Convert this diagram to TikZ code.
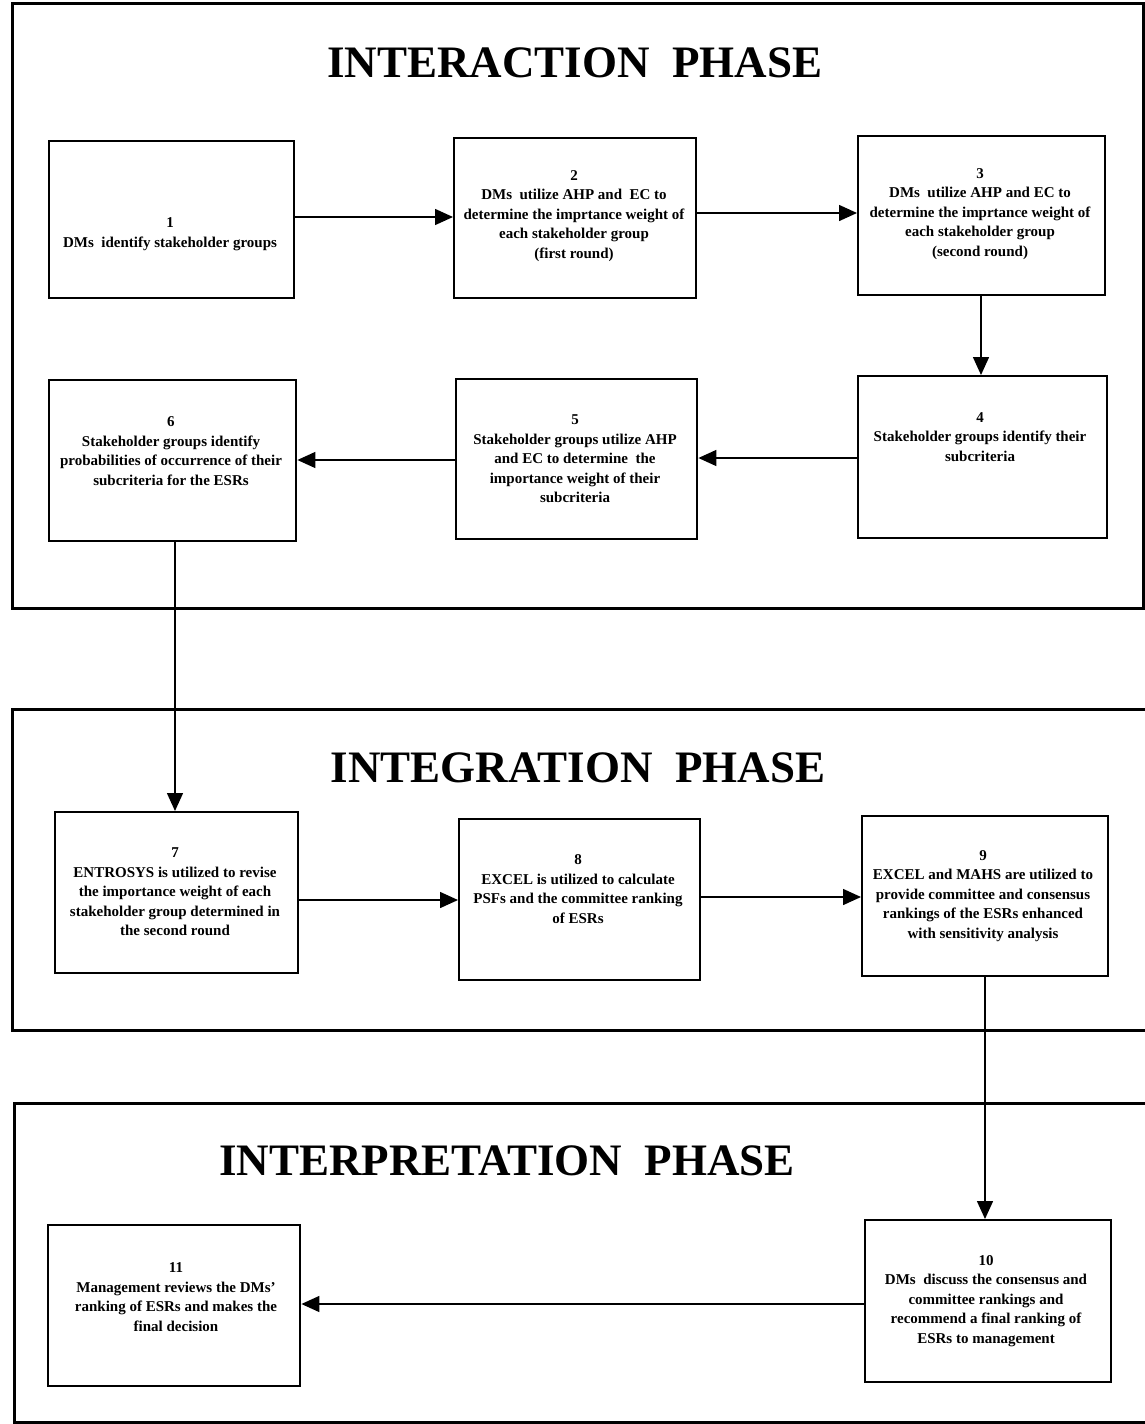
\documentclass[tikz,border=0pt]{standalone}
\usepackage{fontspec}
\setmainfont{Liberation Serif}
\usetikzlibrary{arrows.meta}
\begin{document}
\begin{tikzpicture}[x=1pt,y=-1pt,
  phase/.style={line width=3pt},
  stepbox/.style={draw,line width=2.4pt,anchor=north west,inner sep=0pt},
  txt/.style={align=center,font=\bfseries\fontsize{15}{19.5}\selectfont,inner sep=0pt},
  title/.style={font=\bfseries\fontsize{45}{50}\selectfont,inner sep=0pt},
  flow/.style={line width=1.5pt,-{Triangle[length=18pt,width=16pt]}}]
\useasboundingbox (0,0) rectangle (1145,1424);
% phase frames
\draw[phase] (12,3) rectangle (1143,608);
\draw[phase] (1145,709) -- (12,709) -- (12,1030) -- (1145,1030);
\draw[phase] (1145,1103) -- (14,1103) -- (14,1422) -- (1145,1422);
% titles
\node[title] (t1) at (575,63) {INTERACTION\ \ PHASE};
\node[title] (t2) at (578,768) {INTEGRATION\ \ PHASE};
\node[title] (t3) at (507,1161) {INTERPRETATION\ \ PHASE};
% boxes
\node[stepbox,minimum width=245pt,minimum height=157pt] (b1) at (48,140) {};
\node[stepbox,minimum width=242pt,minimum height=160pt] (b2) at (453,137) {};
\node[stepbox,minimum width=247pt,minimum height=159pt] (b3) at (857,135) {};
\node[stepbox,minimum width=249pt,minimum height=162pt] (b4) at (857,375) {};
\node[stepbox,minimum width=241pt,minimum height=160pt] (b5) at (455,378) {};
\node[stepbox,minimum width=247pt,minimum height=161pt] (b6) at (48,379) {};
\node[stepbox,minimum width=243pt,minimum height=161pt] (b7) at (54,811) {};
\node[stepbox,minimum width=241pt,minimum height=161pt] (b8) at (458,818) {};
\node[stepbox,minimum width=246pt,minimum height=160pt] (b9) at (861,815) {};
\node[stepbox,minimum width=246pt,minimum height=162pt] (b10) at (864,1219) {};
\node[stepbox,minimum width=252pt,minimum height=161pt] (b11) at (47,1224) {};
% texts
\node[txt] (x1) at (170,234) {1\\DMs\ \ identify stakeholder groups};
\node[txt] (x2) at (574,216) {2\\DMs\ \ utilize AHP and\ \ EC to\\determine the imprtance weight of\\each stakeholder group\\(first round)};
\node[txt] (x3) at (980,214) {3\\DMs\ \ utilize AHP and EC to\\determine the imprtance weight of\\each stakeholder group\\(second round)};
\node[txt] (x4) at (980,437) {4\\Stakeholder groups identify their\\subcriteria};
\node[txt] (x5) at (575,459) {5\\Stakeholder groups utilize AHP\\and EC to determine\ \ the\\importance weight of their\\subcriteria};
\node[txt] (x6) at (171,451) {6\\Stakeholder groups identify\\probabilities of occurrence of their\\subcriteria for the ESRs};
\node[txt] (x7) at (175,892) {7\\ENTROSYS is utilized to revise\\the importance weight of each\\stakeholder group determined in\\the second round};
\node[txt] (x8) at (578,889) {8\\EXCEL is utilized to calculate\\PSFs and the committee ranking\\of ESRs};
\node[txt] (x9) at (983,896) {9\\EXCEL and MAHS are utilized to\\provide committee and consensus\\rankings of the ESRs enhanced\\with sensitivity analysis};
\node[txt] (x10) at (986,1301) {10\\DMs\ \ discuss the consensus and\\committee rankings and\\recommend a final ranking of\\ESRs to management};
\node[txt] (x11) at (176,1297) {11\\Management reviews the DMs'\\ranking of ESRs and makes the\\final decision};
% connectors
\draw[flow] (b1.east |- 0,217) -- (b2.west |- 0,217);
\draw[flow] (b2.east |- 0,213) -- (b3.west |- 0,213);
\draw[flow] (b3.south -| 981,0) -- (b4.north -| 981,0);
\draw[flow] (b4.west |- 0,458) -- (b5.east |- 0,458);
\draw[flow] (b5.west |- 0,460) -- (b6.east |- 0,460);
\draw[flow] (b6.south -| 175,0) -- (b7.north -| 175,0);
\draw[flow] (b7.east |- 0,900) -- (b8.west |- 0,900);
\draw[flow] (b8.east |- 0,897) -- (b9.west |- 0,897);
\draw[flow] (b9.south -| 985,0) -- (b10.north -| 985,0);
\draw[flow] (b10.west |- 0,1304) -- (b11.east |- 0,1304);
\end{tikzpicture}
\end{document}
